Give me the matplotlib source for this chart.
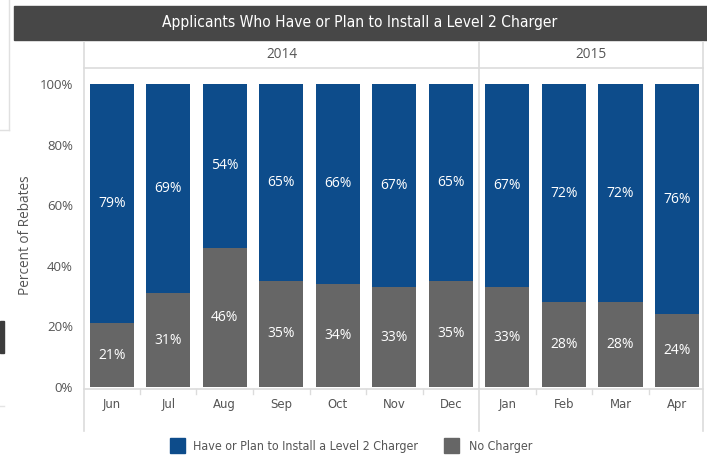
import matplotlib
matplotlib.use("Agg")
import matplotlib.pyplot as plt
from matplotlib.patches import Rectangle
from matplotlib.lines import Line2D
from matplotlib import font_manager
from matplotlib.font_manager import FontProperties

months = ["Jun", "Jul", "Aug", "Sep", "Oct", "Nov", "Dec", "Jan", "Feb", "Mar", "Apr"]
years = ["2014", "2015"]
year_counts = [7, 4]
have_charger = [79, 69, 54, 65, 66, 67, 65, 67, 72, 72, 76]
no_charger = [21, 31, 46, 35, 34, 33, 35, 33, 28, 28, 24]
y_ticks = [0, 20, 40, 60, 80, 100]

BLUE = "#0d4c8b"
GREY = "#666666"
TITLE_BG = "#474747"
LINE = "#dcdcdc"
TEXT = "#555555"

body = ["Open Sans", "DejaVu Sans"]


def pick_narrow_font():
    """Find a condensed/narrow sans face if one is installed."""
    best = None
    for f in font_manager.fontManager.ttflist:
        low = (f.fname + " " + f.name).lower()
        if not any(k in low for k in ("condensed", "narrow")):
            continue
        if f.style != "normal" or f.weight not in (400, "normal", "regular"):
            continue
        if "bold" in low or "light" in low or "semi" in low or "mono" in low or "serif" in low.replace("sans", ""):
            continue
        score = 0 if "sans" in low or "roboto" in low else 1
        if best is None or score < best[0]:
            best = (score, f.fname)
    if best:
        return lambda: FontProperties(fname=best[1])
    return lambda: FontProperties(family=["Roboto", "DejaVu Sans"])


narrow = pick_narrow_font()

W, H = 707, 465
fig = plt.figure(figsize=(W / 100, H / 100), dpi=100)
renderer = fig.canvas.get_renderer()


def fx(px):
    return px / W


def fy(py):
    return 1 - py / H


def fit_width(txt, target_px):
    """Rescale a text's font size so it spans target_px pixels."""
    w = txt.get_window_extent(renderer).width
    txt.set_fontsize(txt.get_fontsize() * target_px / w)
    return txt.get_fontsize()


# plot area
x0, x1 = 84, 703
y_top, y_bot = 84, 387
ax = fig.add_axes([fx(x0), fy(y_bot), fx(x1 - x0), fy(y_top) - fy(y_bot)])
n = len(months)
xs = list(range(n))
ax.bar(xs, no_charger, width=0.78, color=GREY, zorder=2)
ax.bar(xs, have_charger, width=0.78, bottom=no_charger, color=BLUE, zorder=2)
for x, lo, hi in zip(xs, no_charger, have_charger):
    ax.text(x, lo / 2, f"{lo}%", ha="center", va="center", color="white",
            fontsize=10, family=body)
    ax.text(x, lo + hi / 2, f"{hi}%", ha="center", va="center", color="white",
            fontsize=10, family=body)

ax.set_xlim(-0.49, 10.46)
ax.set_ylim(0, 100)
for s in ax.spines.values():
    s.set_visible(False)
ax.set_yticks(y_ticks)
ax.set_yticklabels([f"{t}%" for t in y_ticks], family=body, fontsize=9.5, color=TEXT)
ax.tick_params(axis="y", length=0, pad=8)
ax.set_xticks([])
ax.set_ylabel("Percent of Rebates", family=body, fontsize=9.8, color=TEXT)
ax.yaxis.set_label_coords((33 - x0) / (x1 - x0), 0.5)

# title bar
fig.patches.append(Rectangle((fx(14), fy(40)), fx(W - 14), fy(6) - fy(40),
                             transform=fig.transFigure, color=TITLE_BG, zorder=0))
title = fig.text(fx(360), fy(23), "Applicants Who Have or Plan to Install a Level 2 Charger",
                 ha="center", va="center", color="white", fontproperties=narrow(),
                 fontsize=14)
fit_width(title, 396)

# legend
fig.patches.append(Rectangle((fx(170), fy(453)), fx(15), fy(438) - fy(453),
                             transform=fig.transFigure, color=BLUE))
leg1 = fig.text(fx(193), fy(446), "Have or Plan to Install a Level 2 Charger", ha="left",
                va="center", fontproperties=narrow(), fontsize=12, color=TEXT)
label_size = fit_width(leg1, 224)
fig.patches.append(Rectangle((fx(444), fy(453)), fx(15), fy(438) - fy(453),
                             transform=fig.transFigure, color=GREY))
fig.text(fx(469), fy(446), "No Charger", ha="left", va="center",
         fontproperties=narrow(), fontsize=label_size, color=TEXT)

# month labels
for x, m in zip(xs, months):
    ax.annotate(m, (x, 0), xycoords=("data", "axes fraction"), xytext=(0, -17),
                textcoords="offset pixels", ha="center", va="center",
                fontproperties=narrow(), fontsize=label_size * 1.05, color=TEXT)


def hline(y, xa, xb, color=LINE, lw=1.2):
    fig.add_artist(Line2D([fx(xa), fx(xb)], [fy(y), fy(y)], color=color, lw=lw,
                          transform=fig.transFigure))


def vline(x, ya, yb, color=LINE, lw=1.2):
    fig.add_artist(Line2D([fx(x), fx(x)], [fy(ya), fy(yb)], color=color, lw=lw,
                          transform=fig.transFigure))


def data_to_px(xd):
    return x0 + (xd + 0.49) / (10.46 + 0.49) * (x1 - x0)


# year header and frame lines
hline(68, x0, x1)
hline(389, x0, x1)
boundaries = [x0]
pos = 0
for cnt in year_counts:
    pos += cnt
    boundaries.append(data_to_px(pos - 0.5))
boundaries[-1] = x1
for b in boundaries:
    vline(b, 42, 431)
for i, yr in enumerate(years):
    fig.text(fx((boundaries[i] + boundaries[i + 1]) / 2), fy(55), yr, ha="center",
             va="center", family=body, fontsize=9.8, color=TEXT)
# small separators between months
for k in range(1, n):
    if k == year_counts[0]:
        continue
    vline(data_to_px(k - 0.5), 389, 394, lw=1.0)

# page fragments at the left edge
vline(9, 0, 130, color="#e0e0e0", lw=1.0)
hline(130, 0, 9, color="#e0e0e0", lw=1.0)
fig.patches.append(Rectangle((0, fy(353)), fx(4), fy(321) - fy(353),
                             transform=fig.transFigure, color="#3c3c3c"))
hline(406, 0, 4, color="#e4e4e4", lw=1.0)

fig.savefig("out.png", dpi=100)
